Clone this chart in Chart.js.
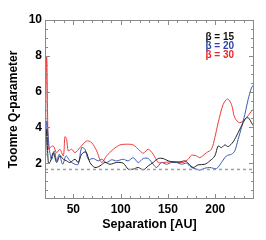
<!DOCTYPE html>
<html>
<head>
<meta charset="utf-8">
<script src="https://cdn.jsdelivr.net/npm/chart.js@4/dist/chart.umd.min.js"></script>
<style>
  body { margin: 0; background: #fff; }
</style>
</head>
<body>
<canvas id="qChart" width="266" height="240"></canvas>
<script>
// --- Data ---
// Separation [AU] / Toomre Q for each beta run
const sep15 = [20.4, 21.8, 23.5, 25.3, 28.8, 32.3, 35.8, 39.4, 42.9, 46.4, 51.7, 55.2, 58.7, 63.3, 67.5, 72.8, 78.1, 83.4, 88.7, 95.7, 102.7, 108, 113.3, 118.6, 123.9, 129.2, 134.4, 139.7, 145, 150.3, 155.6, 162.6, 167.9, 171.4, 176.7, 182, 189, 194.3, 199.6, 203.1, 206.6, 210.1, 213.7, 218.9, 224.2, 229.5, 233, 235.8, 238.3, 240.8];
const q15 = [2.04, 3.89, 2.04, 2.04, 2.59, 2.04, 2.41, 2.22, 2.13, 2.04, 2.22, 2.04, 2.5, 2.63, 2.04, 1.76, 1.85, 2.04, 1.94, 2.04, 2.0, 1.67, 1.67, 1.76, 1.63, 1.85, 2.04, 2.26, 2.26, 2.13, 2.07, 2.07, 2.13, 2.0, 1.76, 1.91, 1.94, 2.13, 2.41, 2.96, 2.87, 3.02, 2.93, 3.19, 3.7, 4.26, 4.54, 4.5, 4.26, 4.07];

const sep20 = [20.4, 21.8, 24.6, 27, 29.9, 32.3, 35.1, 38.7, 42.2, 46.4, 51.7, 55.2, 58.7, 62.3, 65.8, 71.1, 76.3, 79.9, 85.1, 90.4, 95.7, 102.7, 108, 113.3, 118.6, 123.9, 129.2, 134.4, 138, 143.2, 148.5, 153.8, 159.1, 164.4, 169.6, 174.9, 180.2, 183.7, 189, 194.3, 201.3, 206.6, 211.9, 217.2, 220.7, 224.2, 227.7, 231.3, 234.8, 238.3, 240.8];
const q20 = [2.41, 4.35, 2.78, 2.22, 2.69, 2.13, 2.5, 1.94, 2.41, 2.13, 1.94, 1.94, 2.87, 2.78, 2.22, 2.26, 2.13, 2.22, 2.04, 2.19, 2.13, 2.22, 2.13, 2.31, 2.04, 2.26, 2.26, 1.94, 1.76, 2.04, 1.94, 2.04, 2.04, 1.94, 2.0, 1.76, 1.67, 1.61, 1.72, 1.76, 1.7, 2.04, 2.41, 2.5, 2.69, 3.33, 3.98, 4.72, 5.56, 6.2, 6.39];

const sep30 = [20.4, 21.8, 23.5, 25.3, 28.8, 32.3, 35.8, 39.4, 41.1, 42.9, 44.6, 48.2, 51.7, 57, 64, 69.3, 74.6, 79.9, 85.1, 92.2, 99.2, 106.3, 113.3, 120.4, 123.9, 129.2, 134.4, 139.7, 145, 152, 159.1, 166.1, 171.4, 174.9, 180.2, 183.7, 190.8, 196, 199.6, 203.1, 208.4, 213, 217.2, 220.7, 226, 233, 238.3, 240.8];
const q30 = [2.96, 7.96, 2.78, 2.87, 2.96, 2.59, 2.78, 2.41, 3.48, 3.33, 2.69, 2.78, 2.59, 2.87, 3.24, 3.15, 2.69, 2.04, 2.41, 2.78, 3.02, 3.06, 3.02, 2.69, 2.56, 2.78, 2.5, 2.04, 2.04, 2.07, 2.07, 2.04, 2.22, 2.44, 2.41, 2.31, 2.59, 2.78, 3.43, 4.26, 5.28, 5.59, 5.28, 4.54, 4.26, 4.54, 4.91, 5.04];

const qLimit = 1.65; // dashed threshold line
const xTicks = [50, 100, 150, 200];
const yTicks = [2, 4, 6, 8, 10];
const legendLabels = ['\u03b2 = 15', '\u03b2 = 20', '\u03b2 = 30'];
const lineColors = ['#222222', '#3a5bb8', '#f03a3a'];
const labelColors = ['#111111', '#2a46a8', '#e82828'];

function toPoints(xs, ys) {
  return xs.map((x, i) => ({ x: x, y: ys[i] }));
}

// --- Frame, inside ticks and legend text (IDL look) ---
const idlFrame = {
  id: 'idlFrame',
  afterDraw(chart) {
    const ctx = chart.ctx;
    const a = chart.chartArea;
    const xs = chart.scales.x;
    const ys = chart.scales.y;
    ctx.save();
    ctx.strokeStyle = '#8a8a8a';
    ctx.lineWidth = 1;
    ctx.strokeRect(a.left + 0.5, a.top + 0.5, a.right - a.left - 1, a.bottom - a.top - 1);

    ctx.beginPath();
    // x ticks, minor every 10
    for (let v = 20; v <= 240; v += 10) {
      const px = Math.round(xs.getPixelForValue(v)) + 0.5;
      const len = (v % 50 === 0) ? 5 : 3;
      ctx.moveTo(px, a.bottom); ctx.lineTo(px, a.bottom - len);
      ctx.moveTo(px, a.top); ctx.lineTo(px, a.top + len);
    }
    // y ticks, minor every 0.5
    for (let v = 0.5; v < 10; v += 0.5) {
      const py = Math.round(ys.getPixelForValue(v)) + 0.5;
      const len = (v % 2 === 0) ? 5 : 3;
      ctx.moveTo(a.left, py); ctx.lineTo(a.left + len, py);
      ctx.moveTo(a.right, py); ctx.lineTo(a.right - len, py);
    }
    ctx.stroke();

    // legend
    ctx.font = 'bold 10px "Liberation Sans", Arial, sans-serif';
    ctx.textAlign = 'right';
    ctx.textBaseline = 'middle';
    const rows = [37, 46, 55];
    legendLabels.forEach((t, i) => {
      ctx.fillStyle = labelColors[i];
      ctx.fillText(t, 234, rows[i]);
    });
    ctx.restore();
  }
};

const ctx = document.getElementById('qChart').getContext('2d');
const lineBase = { showLine: true, pointRadius: 0, borderWidth: 1, tension: 0.3, fill: false };

new Chart(ctx, {
  type: 'scatter',
  data: {
    datasets: [
      Object.assign({ data: toPoints([20, 241], [qLimit, qLimit]), borderColor: '#a0a0a0', borderDash: [3, 3] }, lineBase, { borderWidth: 1.5, tension: 0 }),
      Object.assign({ data: toPoints(sep15, q15), borderColor: lineColors[0] }, lineBase),
      Object.assign({ data: toPoints(sep20, q20), borderColor: lineColors[1] }, lineBase),
      Object.assign({ data: toPoints(sep30, q30), borderColor: lineColors[2] }, lineBase)
    ]
  },
  options: {
    responsive: false,
    animation: false,
    layout: { padding: { top: 20, right: 12, left: 0, bottom: 0 } },
    plugins: { legend: { display: false }, tooltip: { enabled: false } },
    scales: {
      x: {
        type: 'linear',
        min: 20, max: 241,
        grid: { display: false, drawTicks: false },
        border: { display: false },
        afterBuildTicks: s => { s.ticks = xTicks.map(v => ({ value: v })); },
        afterFit: s => { s.height = 41; },
        ticks: {
          autoSkip: false, maxRotation: 0, padding: 3, color: '#000',
          font: { family: '"Liberation Sans", Arial, sans-serif', size: 12, weight: 'bold' }
        },
        title: {
          display: true, text: 'Separation [AU]', color: '#000',
          padding: { top: 0, bottom: 8 },
          font: { family: '"Liberation Sans", Arial, sans-serif', size: 12.5, weight: 'bold' }
        }
      },
      y: {
        min: 0, max: 10,
        grid: { display: false, drawTicks: false },
        border: { display: false },
        afterBuildTicks: s => { s.ticks = yTicks.map(v => ({ value: v })); },
        afterFit: s => { s.width = 45; },
        ticks: {
          padding: 3, color: '#000',
          font: { family: '"Liberation Sans", Arial, sans-serif', size: 12, weight: 'bold' }
        },
        title: {
          display: true, text: 'Toomre Q-parameter', color: '#000',
          padding: { top: 6, bottom: 0 },
          font: { family: '"Liberation Sans", Arial, sans-serif', size: 12, weight: 'bold' }
        }
      }
    }
  },
  plugins: [idlFrame]
});
</script>
</body>
</html>
